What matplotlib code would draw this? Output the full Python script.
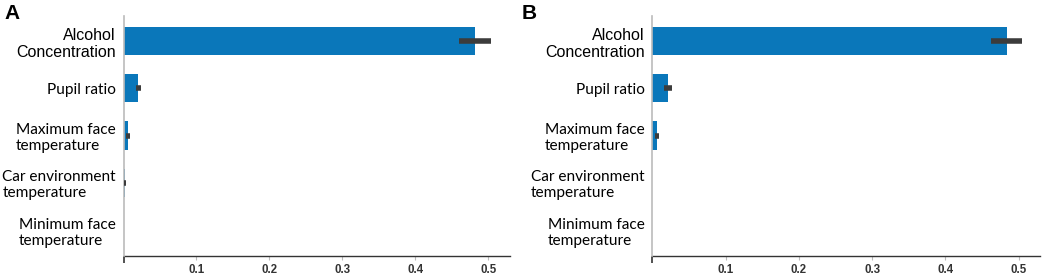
import matplotlib
matplotlib.use("Agg")
import matplotlib.pyplot as plt
from matplotlib.ticker import FixedLocator

categories = ["Alcohol\nConcentration", "Pupil ratio", "Maximum face\ntemperature",
              "Car environment\ntemperature", "Minimum face\ntemperature"]
values_a = [0.482, 0.020, 0.0058, 0.0018, 0.0]
errors_a = [0.022, 0.0033, 0.0028, 0.0014, 0.0]
values_b = [0.4835, 0.0214, 0.0064, 0.0, 0.0]
errors_b = [0.021, 0.0052, 0.0029, 0.0, 0.0]
tick_vals = [0.1, 0.2, 0.3, 0.4, 0.5]
tick_labels = ["0.1", "0.2", "0.3", "0.4", "0.5"]
panel_labels = ["A", "B"]

BAR = "#0A77BA"
ERR = "#3C3C3C"

fig = plt.figure(figsize=(10.45, 2.76), dpi=100)
axes_rects = [[123.5/1045, 1-256/276, (510-123.5)/1045, 240/276],
              [652.3/1045, 1-256/276, (1040-652.3)/1045, 240/276]]
xmaxes = [0.5295, 0.529]
label_pos = [(4/1045, 1-4/276), (522/1045, 1-4/276)]

for rect, vals, errs, xm, lab, lp in zip(axes_rects, [values_a, values_b], [errors_a, errors_b],
                                        xmaxes, panel_labels, label_pos):
    ax = fig.add_axes(rect)
    y = list(range(len(categories)))
    ax.barh(y, vals, height=0.6, color=BAR, edgecolor="none", zorder=2)
    for yi, v, e in zip(y, vals, errs):
        if v > 0 and e > 0:
            ax.plot([v - e, v + e], [yi, yi], color=ERR, lw=4, solid_capstyle="butt",
                    zorder=4, clip_on=False)
    ax.set_ylim(4.55, -0.53)
    ax.set_xlim(0, xm)
    ax.set_yticks(y)
    ax.set_yticklabels(categories)
    for i, t in enumerate(ax.get_yticklabels()):
        if i == 0:
            t.set_family("Liberation Sans")
            t.set_fontsize(11.5)
            t.set_multialignment("right")
        else:
            t.set_family("Lato")
            t.set_fontsize(11.1)
            t.set_multialignment("left")
    ax.tick_params(axis="y", length=0, pad=5.5)
    ax.xaxis.set_major_locator(FixedLocator(tick_vals))
    ax.set_xticklabels(tick_labels, fontsize=8.3, family="Liberation Sans", fontweight="bold",
                       color="#333333")
    ax.tick_params(axis="x", which="major", length=3, width=0.8, color="#BBBBBB", pad=3)
    ax.xaxis.set_minor_locator(FixedLocator([0.0]))
    ax.tick_params(axis="x", which="minor", length=5, width=1.2, color="#333333")
    for s in ["top", "right"]:
        ax.spines[s].set_visible(False)
    ax.spines["left"].set_color("#BBBBBB")
    ax.spines["left"].set_linewidth(1.2)
    ax.spines["left"].set_zorder(3)
    ax.spines["bottom"].set_color("#333333")
    ax.spines["bottom"].set_linewidth(1.0)
    fig.text(lp[0], lp[1], lab, fontsize=15, fontweight="bold", family="Liberation Sans",
             ha="left", va="top")

fig.savefig("out.png", dpi=100)
